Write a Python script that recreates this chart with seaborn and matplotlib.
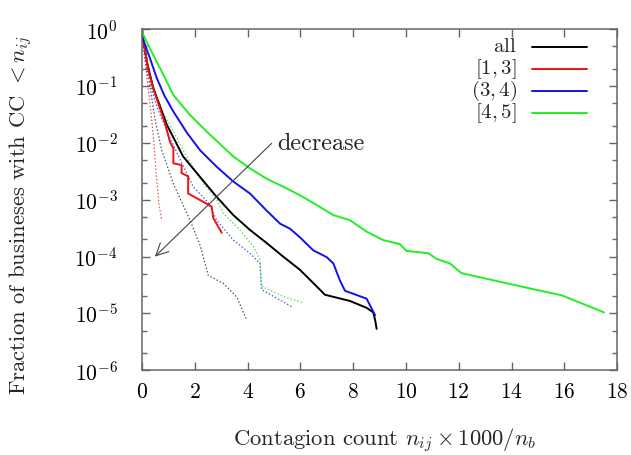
import numpy as np
import pandas as pd
import matplotlib
matplotlib.use("Agg")
import matplotlib.pyplot as plt
import matplotlib.ticker as mticker
import seaborn as sns

# ---- data (y as log10 of fraction) ----
all_x = [0, 0.05, 0.2, 0.43, 0.94, 1.56, 2.2, 2.83, 3.46, 4.09, 4.72, 5.35, 5.98, 6.61, 6.93, 7.88, 8.51, 8.76, 8.83, 8.89]
all_logy = [0, -0.2, -0.6, -1.04, -1.68, -2.24, -2.6, -2.95, -3.27, -3.53, -3.76, -4.0, -4.23, -4.52, -4.67, -4.78, -4.90, -4.98, -5.11, -5.27]

r13_x = [0, 0.05, 0.24, 0.43, 0.68, 0.9, 1.06, 1.19, 1.19, 1.50, 1.50, 1.75, 1.75, 2.45, 2.64, 2.70, 3.02]
r13_logy = [0, -0.2, -0.72, -1.05, -1.39, -1.7, -1.98, -2.1, -2.36, -2.39, -2.53, -2.59, -2.89, -3.07, -3.12, -3.32, -3.58]

r34_x = [0, 0.05, 0.30, 0.56, 0.85, 1.19, 1.7, 2.2, 2.83, 3.46, 4.09, 4.72, 5.23, 5.61, 5.98, 6.49, 7.0, 7.25, 7.5, 7.69, 8.51, 8.83]
r34_logy = [0, -0.19, -0.51, -0.86, -1.17, -1.45, -1.82, -2.13, -2.42, -2.68, -2.89, -3.19, -3.42, -3.51, -3.66, -3.89, -4.01, -4.12, -4.42, -4.60, -4.74, -5.03]

r45_x = [0, 0.05, 0.30, 0.81, 1.19, 1.82, 2.45, 3.46, 4.09, 4.72, 5.35, 5.98, 6.61, 7.25, 7.88, 8.51, 9.14, 9.77, 10.02, 10.85, 11.16, 11.67, 12.1, 13.06, 14.8, 15.9, 16.7, 17.5]
r45_logy = [0, -0.1, -0.34, -0.80, -1.16, -1.51, -1.80, -2.24, -2.45, -2.63, -2.77, -2.92, -3.09, -3.27, -3.36, -3.56, -3.71, -3.78, -3.90, -3.94, -4.04, -4.12, -4.29, -4.39, -4.57, -4.68, -4.83, -4.98]

# dotted (reduced) curves
d_all_x = [0, 0.05, 0.3, 0.5, 0.75, 1.19, 1.82, 2.2, 2.51, 3.08, 3.59, 3.94]
d_all_logy = [0, -0.3, -1.0, -1.6, -2.13, -2.72, -3.36, -3.8, -4.33, -4.47, -4.71, -5.09]

d_r13_x = [0, 0.05, 0.2, 0.37, 0.45, 0.55, 0.65, 0.75]
d_r13_logy = [0, -0.3, -0.9, -1.6, -2.0, -2.6, -3.1, -3.36]

d_r34_x = [0, 0.05, 0.18, 0.45, 0.68, 1.0, 1.4, 1.94, 2.51, 2.83, 3.46, 4.09, 4.47, 4.53, 5.10, 5.67]
d_r34_logy = [0, -0.25, -0.72, -1.2, -1.5, -1.85, -2.25, -2.77, -3.05, -3.36, -3.71, -3.94, -4.12, -4.58, -4.73, -4.88]

d_r45_x = [0, 0.05, 0.2, 0.43, 0.81, 1.19, 1.7, 2.32, 2.83, 3.08, 3.71, 4.22, 4.47, 4.53, 5.35, 6.11]
d_r45_logy = [0, -0.2, -0.6, -1.0, -1.48, -1.8, -2.25, -2.71, -3.0, -3.24, -3.53, -3.82, -4.05, -4.52, -4.70, -4.81]

labels = [r"$\mathrm{all}$", r"$[1,3]$", r"$(3,4)$", r"$[4,5]$"]
colors = ["#000000", "#ee1111", "#1111ee", "#22ee22"]
dot_colors = ["#555555", "#ee5555", "#5555ee", "#55dd55"]

solid = [(all_x, all_logy), (r13_x, r13_logy), (r34_x, r34_logy), (r45_x, r45_logy)]
dotted = [(d_all_x, d_all_logy), (d_r13_x, d_r13_logy), (d_r34_x, d_r34_logy), (d_r45_x, d_r45_logy)]

arrow_from = (4.91, 10 ** -2.01)
arrow_to = (0.49, 10 ** -4.0)
arrow_text = "decrease"

# ---- style ----
sns.set_theme(style="ticks")
plt.rcParams["font.family"] = ["cmr10", "DejaVu Serif"]
plt.rcParams["mathtext.fontset"] = "cm"
plt.rcParams["axes.formatter.use_mathtext"] = True
plt.rcParams["axes.unicode_minus"] = True

FS_TICK = 15.5
FS_LAB = 16.3
FS_TXT = 17.5
FS_LEG = 15
spine_col = "#666666"

fig = plt.figure(figsize=(6.31, 4.55), dpi=100)
ax = fig.add_axes([0.225, 0.186, 0.978 - 0.225, 0.936 - 0.186])

for (xs, ly), c in zip(dotted, dot_colors):
    df = pd.DataFrame({"x": xs, "y": np.power(10.0, ly)})
    sns.lineplot(data=df, x="x", y="y", color=c, sort=False, estimator=None,
                 lw=0.9, linestyle=(0, (1.2, 1.6)), ax=ax)

for (xs, ly), c in zip(solid, colors):
    df = pd.DataFrame({"x": xs, "y": np.power(10.0, ly)})
    sns.lineplot(data=df, x="x", y="y", color=c, sort=False, estimator=None,
                 lw=1.4, ax=ax)

ax.set_yscale("log")
ax.set_xlim(0, 18)
ax.set_ylim(1e-6, 1)
ax.set_xticks(np.arange(0, 19, 2))
ax.yaxis.set_major_locator(mticker.LogLocator(base=10, numticks=20))
ax.yaxis.set_minor_locator(mticker.LogLocator(base=10, subs=(2.0, 5.0), numticks=20))
ax.yaxis.set_minor_formatter(mticker.NullFormatter())

for s in ax.spines.values():
    s.set_color(spine_col)
    s.set_linewidth(1.1)
    s.set_visible(True)

ax.tick_params(axis="both", which="major", direction="in", length=6, width=1,
               color=spine_col, top=True, right=True, labelsize=FS_TICK, labelcolor="black")
ax.tick_params(axis="both", which="minor", direction="in", length=3.5, width=1,
               color=spine_col, top=True, right=True)
ax.tick_params(axis="x", which="major", pad=9)
ax.tick_params(axis="y", which="major", pad=17.5)

ax.set_xlabel(r"Contagion count $n_{ij} \times 1000/n_b$", fontsize=FS_LAB)
ax.set_ylabel(r"Fraction of busineses with CC $< n_{ij}$", fontsize=FS_LAB)
ax.xaxis.set_label_coords(0.51, -0.165)
ax.yaxis.set_label_coords(-0.225, 0.455)

# arrow
ax.annotate("", xy=arrow_to, xytext=arrow_from,
            arrowprops=dict(arrowstyle="->", color="#444444", lw=0.8, mutation_scale=22,
                            shrinkA=0, shrinkB=0))
ax.text(arrow_from[0] + 0.2, arrow_from[1], arrow_text, fontsize=FS_TXT, ha="left", va="center")

# gnuplot-style key: right-aligned labels, sample line to the right
key_top = 0.947
key_step = 0.064
text_right = 0.789
line_x = (0.821, 0.937)
for i, (lab, c) in enumerate(zip(labels, colors)):
    yy = key_top - i * key_step
    ax.text(text_right, yy, lab, transform=ax.transAxes, ha="right", va="center",
            fontsize=FS_LEG)
    ax.plot(line_x, [yy, yy], transform=ax.transAxes, color=c, lw=1.4)

fig.savefig("out.png", dpi=100)
